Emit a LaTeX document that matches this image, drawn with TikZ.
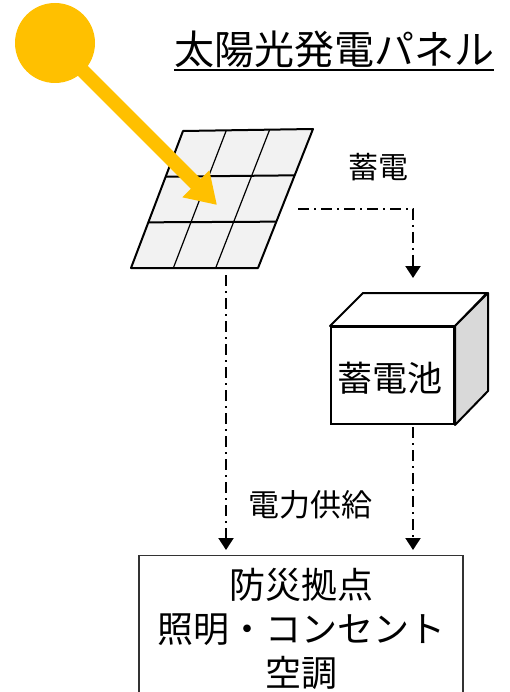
\documentclass[tikz,border=0pt]{standalone}
\usepackage{fontspec}
\newfontfamily\jpfont{Noto Sans CJK JP}
\usetikzlibrary{arrows.meta,calc}
\definecolor{sunyellow}{HTML}{FFC000}
\definecolor{cellgray}{HTML}{F2F2F2}
\definecolor{sidegray}{HTML}{D9D9D9}
\begin{document}
\begin{tikzpicture}[x=1pt,y=-1pt,every node/.style={inner sep=0pt},
  txt/.style={font=\jpfont\fontsize{#1}{#1}\selectfont},
  feed/.style={line width=2.2pt,dash pattern=on 11pt off 5pt on 2pt off 5pt,
   -{Triangle[width=15pt,length=12pt]}}]
 \useasboundingbox (0,0) rectangle (509,692);
 \clip (0,0) rectangle (509,692);
 \coordinate (p1) at (183,131);
 \coordinate (p2) at (313,129);
 \coordinate (p3) at (258,268);
 \coordinate (p4) at (131,268);
 \draw [fill=cellgray,line width=2pt,line join=round] (p4) -- (p1) -- (p2) -- (p3) -- cycle;
 \foreach \i in {1,2} {
  \draw [line width=2pt] ($(p1)!\i/3!(p4)$) -- ($(p2)!\i/3!(p3)$);
  \draw [line width=1.2pt] ($(p1)!\i/3!(p2)$) -- ($(p4)!\i/3!(p3)$);
 }
 \node (sun) [circle,fill=sunyellow,minimum size=80pt] at (55,43) {};
 \coordinate (hit) at (217,205);
 \draw [sunyellow,line width=14pt,-{Triangle[width=36pt,length=30pt]}] (sun.center) -- (hit);
 \node (title) [txt=40,anchor=base west] at (174,65) {太陽光発電パネル};
 \draw [line width=2pt] ([yshift=-5pt]title.base west) -- ([yshift=-5pt]title.base east);
 \node (batt) [draw,line width=2pt,fill=white,minimum width=123pt,minimum height=97pt] at (392.5,375.5) {};
 \draw [line width=2pt,fill=white,line join=round] (batt.north west) -- ++(33,-33) -- ++(124,0) -- (batt.north east) -- cycle;
 \draw [line width=2pt,fill=sidegray,line join=round] (batt.north east) -- ++(33,-33) -- ++(0,98) -- (batt.south east) -- cycle;
 \node (battlbl) [txt=35,anchor=base] at (390,391) {蓄電池};
 \node (base) [draw=black!80,line width=1.2pt,minimum width=324pt,minimum height=160pt,anchor=north] at (301,555) {};
 \node (baselbl) [anchor=base,align=center,font=\jpfont\fontsize{36}{44}\selectfont] at (301,686)
  {防災拠点\\照明・コンセント\\空調};
 \coordinate (panelout) at (298,209);
 \coordinate (panelbot) at (226,275);
 \coordinate (battin) at (413,278);
 \coordinate (battout) at (413,427);
 \coordinate (in1) at (226,550);
 \coordinate (in2) at (413,550);
 \draw [feed] (panelout) -| (battin);
 \draw [feed] (panelbot) -- (in1);
 \draw [feed] (battout) -- (in2);
 \node (chg) [txt=30,anchor=base] at (378,179) {蓄電};
 \node (supply) [txt=31,anchor=base] at (310,516) {電力供給};
\end{tikzpicture}
\end{document}
